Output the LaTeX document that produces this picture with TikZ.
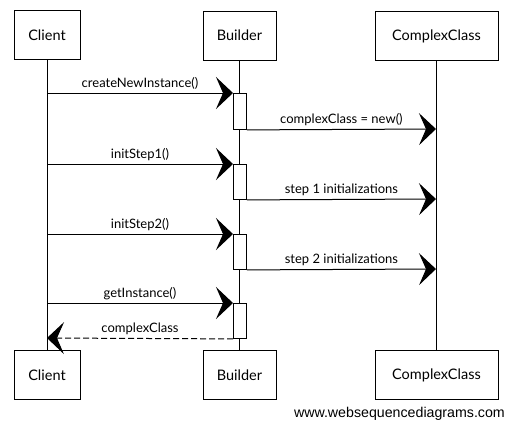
\documentclass[tikz,border=0pt]{standalone}
\usepackage{fontspec}
\setmainfont{Lato}
\newfontfamily\footfont{Liberation Sans}
\usetikzlibrary{arrows.meta}
\begin{document}
\begin{tikzpicture}[x=1pt,y=-1pt,
  actor/.style={draw,line width=1pt,minimum height=49pt,inner sep=0pt,font=\fontsize{14.5}{16}\selectfont},
  act/.style={draw,fill=white,line width=0.9pt,minimum width=13pt,inner sep=0pt,anchor=north west},
  life/.style={line width=0.9pt},
  msg/.style={line width=1pt,-{Stealth[length=17pt,width=32pt,inset=7pt]}},
  lbl/.style={font=\fontsize{13}{15}\selectfont,above,inner sep=3pt}]
\useasboundingbox (0,0) rectangle (508,421);
% top actors
\node[actor,minimum width=66pt] (ct) at (47,35) {Client};
\node[actor,minimum width=73pt] (bt) at (239.5,35.5) {Builder};
\node[actor,minimum width=123pt] (xt) at (436.5,36) {ComplexClass};
% bottom actors
\node[actor,minimum width=66pt] (cb) at (47,375) {Client};
\node[actor,minimum width=73pt] (bb) at (239.5,375) {Builder};
\node[actor,minimum width=123pt] (xb) at (436.5,375) {ComplexClass};
% lifelines
\draw[life] (ct.south) -- (cb.north);
\draw[life] (bt.south) -- (bb.north);
\draw[life] (xt.south) -- (xb.north);
% activations
\node[act,minimum height=36pt] (a1) at (233,93) {};
\node[act,minimum height=35pt] (a2) at (233,164) {};
\node[act,minimum height=35pt] (a3) at (233,234) {};
\node[act,minimum height=35pt] (a4) at (233,303) {};
% endpoints on lifelines
\coordinate (c1) at (47,93);
\coordinate (x1) at (436,129);
\coordinate (c2) at (47,164);
\coordinate (x2) at (436,199);
\coordinate (c3) at (47,234);
\coordinate (x3) at (436,269);
\coordinate (c4) at (47,303);
\coordinate (c5) at (47,338);
% messages
\draw[msg] (c1) -- node[lbl] {createNewInstance()} (a1.north west);
\draw[msg] (a1.south east) -- node[lbl] {complexClass = new()} (x1);
\draw[msg] (c2) -- node[lbl] {initStep1()} (a2.north west);
\draw[msg] (a2.south east) -- node[lbl] {step 1 initializations} (x2);
\draw[msg] (c3) -- node[lbl] {initStep2()} (a3.north west);
\draw[msg] (a3.south east) -- node[lbl] {step 2 initializations} (x3);
\draw[msg] (c4) -- node[lbl] {getInstance()} (a4.north west);
\draw[msg,dashed,dash pattern=on 6pt off 3pt] (a4.south west) -- node[lbl] {complexClass} (c5);
% footer
\node[font=\footfont\fontsize{14.2}{16}\selectfont,anchor=base east,inner sep=0pt] (ft) at (505,417) {www.websequencediagrams.com};
\end{tikzpicture}
\end{document}
